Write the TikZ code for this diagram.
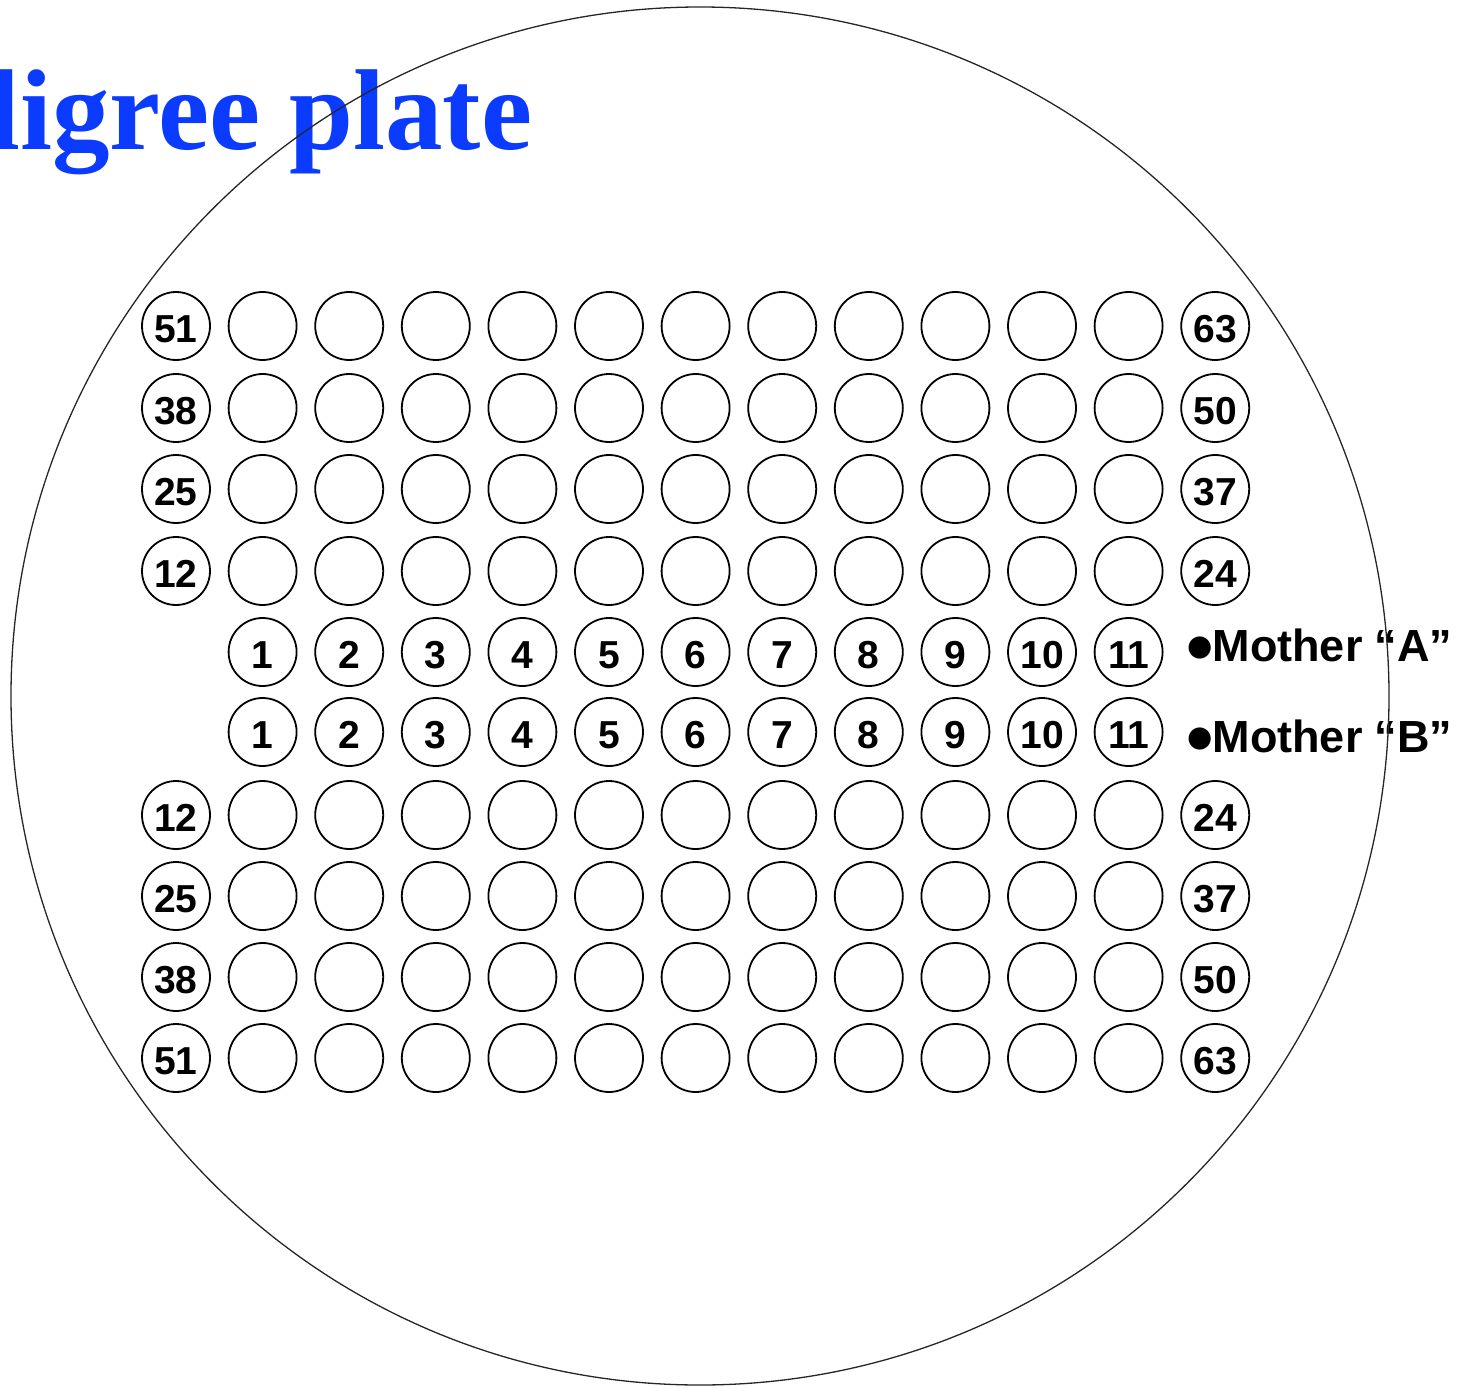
\documentclass[tikz,border=0pt]{standalone}
\usepackage{fontspec}
\setmainfont{Liberation Sans}
\newfontfamily\titlefont{Liberation Serif}
\newfontfamily\dejavu{DejaVu Sans}
\definecolor{titleblue}{RGB}{10,59,255}
\newcommand{\bigbul}{{\dejavu\fontsize{29}{29}\selectfont\raisebox{6pt}{●}}\kern0pt}
\begin{document}
\begin{tikzpicture}[x=1pt,y=-1pt,
  well/.style={circle,draw=black,line width=1.8pt,minimum size=68pt,inner sep=0pt,
    font=\fontsize{39}{39}\selectfont\bfseries,text height=32pt,text depth=0pt},
  plate/.style={circle,draw=black!85,line width=1.3pt,minimum size=1378pt,inner sep=0pt},
  mother/.style={anchor=base west,inner sep=0pt,font=\fontsize{45}{45}\selectfont\bfseries},
  titlestyle/.style={anchor=base west,inner sep=0pt,text=titleblue,
    font=\fontsize{115}{115}\titlefont\bfseries}]
\useasboundingbox (0,0) rectangle (1458,1388);
\node[titlestyle] (title) at (-12,150) {ligree plate};
% plate rows with end labels
\foreach \r/\y/\l/\rr in {1/326/51/63, 2/408/38/50, 3/489/25/37, 4/571/12/24,
                          7/815/12/24, 8/896/25/37, 9/977/38/50, 10/1058/51/63}{
  \node[well] (w-\r-0) at (176,\y) {\l};
  \foreach \c in {1,...,11}{
    \node[well] (w-\r-\c) at ({176+86.6*\c},\y) {};
  }
  \node[well] (w-\r-12) at ({176+86.6*12},\y) {\rr};
}
% mother rows
\foreach \r/\y in {5/652, 6/732}{
  \foreach \c in {1,...,11}{
    \node[well] (w-\r-\c) at ({176+86.6*\c},\y) {\c};
  }
}
\node[mother] (ma) at (1187,661) {\bigbul Mother “A”};
\node[mother] (mb) at (1187,752) {\bigbul Mother “B”};
\node[plate] (plate) at (700,696) {};
\end{tikzpicture}
\end{document}
